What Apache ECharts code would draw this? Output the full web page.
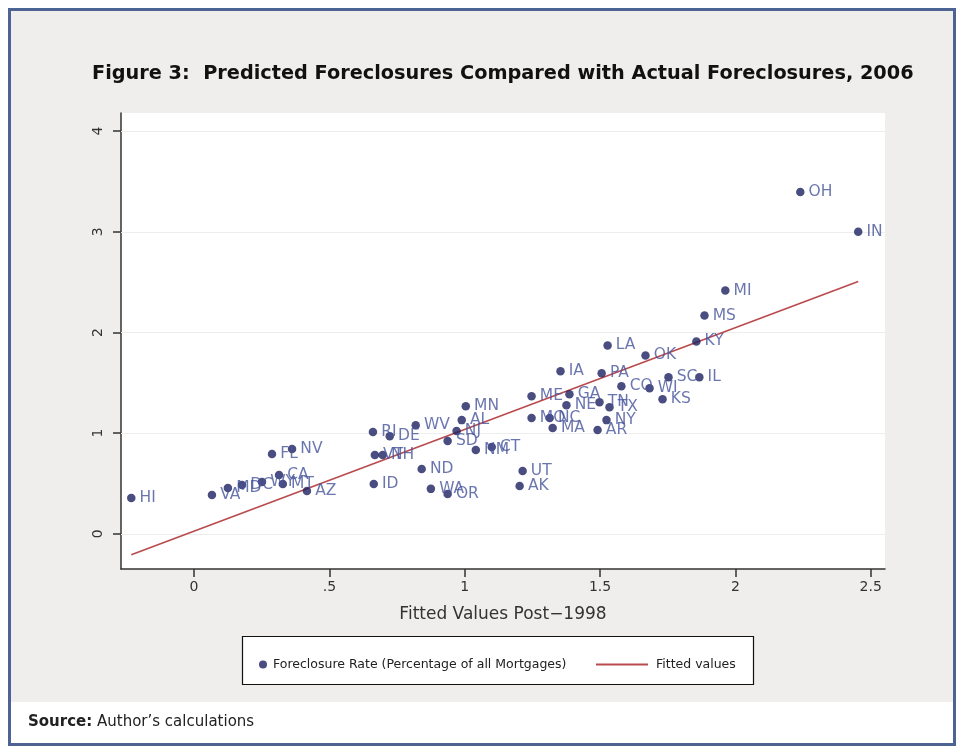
<!DOCTYPE html>
<html>
<head>
<meta charset="utf-8">
<script src="https://cdn.jsdelivr.net/npm/echarts@6/dist/echarts.min.js"></script>
<style>
  html, body { margin: 0; padding: 0; background: #fff; }
  #chart { width: 962px; height: 746px; }
</style>
</head>
<body>
<div id="chart"></div>
<script>
// states, fitted value (x) and actual foreclosure rate (y)
const states = ['HI', 'VA', 'MD', 'DC', 'WY', 'CA', 'MT', 'AZ', 'FL', 'NV',
  'RI', 'DE', 'WV', 'AL', 'MN', 'NJ', 'SD', 'NM', 'CT', 'VT',
  'NH', 'ND', 'ID', 'WA', 'OR', 'UT', 'AK', 'ME', 'MO', 'NC',
  'MA', 'IA', 'GA', 'NE', 'LA', 'PA', 'TN', 'TX', 'NY', 'AR',
  'CO', 'WI', 'OK', 'SC', 'KS', 'IL', 'KY', 'MS', 'MI', 'OH', 'IN']
const fittedX = [-0.232, 0.066, 0.125, 0.177, 0.251, 0.314, 0.328, 0.417, 0.288, 0.362,
  0.661, 0.723, 0.819, 0.989, 1.004, 0.970, 0.937, 1.041, 1.100, 0.668,
  0.697, 0.841, 0.664, 0.875, 0.937, 1.214, 1.203, 1.247, 1.247, 1.314,
  1.325, 1.354, 1.387, 1.376, 1.528, 1.506, 1.498, 1.535, 1.524, 1.491,
  1.579, 1.683, 1.668, 1.753, 1.731, 1.867, 1.856, 1.886, 1.963, 2.240, 2.454]
const actualY = [0.356, 0.386, 0.455, 0.485, 0.515, 0.584, 0.495, 0.426, 0.792, 0.842,
  1.010, 0.970, 1.079, 1.129, 1.267, 1.020, 0.921, 0.832, 0.861, 0.782,
  0.782, 0.644, 0.495, 0.446, 0.396, 0.624, 0.475, 1.366, 1.149, 1.149,
  1.050, 1.614, 1.386, 1.277, 1.871, 1.594, 1.307, 1.257, 1.129, 1.030,
  1.465, 1.446, 1.772, 1.554, 1.337, 1.554, 1.911, 2.168, 2.416, 3.396, 3.000]
// fitted line end points
const fitLine = [[-0.232, -0.208], [2.454, 2.505]]

const xTicks = [0, 0.5, 1, 1.5, 2, 2.5]
const xTickLabels = ['0', '.5', '1', '1.5', '2', '2.5']
const yTicks = [0, 1, 2, 3, 4]

const scatterName = 'Foreclosure Rate (Percentage of all Mortgages)'
const lineName = 'Fitted values'

const pts = states.map(function (s, i) {
  return { name: s, value: [fittedX[i], actualY[i]] }
})

const chart = echarts.init(document.getElementById('chart'))

const font = '"DejaVu Sans", "Liberation Sans", sans-serif'

const option = {
  animation: false,
  backgroundColor: '#fff',
  title: {
    text: 'Figure 3:  Predicted Foreclosures Compared with Actual Foreclosures, 2006',
    left: 87,
    top: 59,
    textStyle: { fontFamily: font, fontSize: 19.3, fontWeight: 'bold', color: '#111' }
  },
  graphic: [
    { type: 'rect', z: -10, shape: { x: 10, y: 10, width: 944, height: 692 }, style: { fill: '#efeeec' } },
    { type: 'rect', z: 100, shape: { x: 9.5, y: 9.5, width: 945, height: 735 }, style: { fill: 'none', stroke: '#4d6393', lineWidth: 3 } },
    { type: 'rect', z: 1, shape: { x: 242.5, y: 636.5, width: 511, height: 48 }, style: { fill: '#fff', stroke: '#111', lineWidth: 1.2 } },
    {
      type: 'text', z: 10, left: 28, top: 715,
      style: {
        text: '{b|Source:} Author\u2019s calculations',
        fontFamily: font, fontSize: 15, fill: '#222',
        rich: { b: { fontFamily: font, fontSize: 15, fontWeight: 'bold', fill: '#222' } }
      }
    }
  ],
  legend: [
    {
      data: [scatterName], left: 254, top: 653, itemWidth: 8, itemHeight: 8, itemGap: 0, z: 5,
      icon: 'circle',
      textStyle: { fontFamily: font, fontSize: 12.5, color: '#222', padding: [0, 0, 0, 1] }
    },
    {
      data: [{ name: lineName, icon: 'rect' }], left: 591, top: 653, itemWidth: 52, itemHeight: 2, z: 5,
      textStyle: { fontFamily: font, fontSize: 12.5, color: '#222', padding: [0, 0, 0, 3] }
    }
  ],
  grid: {
    left: 121, right: 77, top: 113, bottom: 177,
    show: true, backgroundColor: '#fff', borderWidth: 0
  },
  xAxis: {
    type: 'value', min: -0.27, max: 2.553,
    name: 'Fitted Values Post\u22121998', nameLocation: 'middle', nameGap: 37,
    nameTextStyle: { fontFamily: font, fontSize: 17, color: '#333' },
    axisLine: { show: true, onZero: false, lineStyle: { color: '#333', width: 1.5 } },
    axisTick: { show: true, length: 8, customValues: xTicks, lineStyle: { color: '#333', width: 1.5 } },
    axisLabel: {
      customValues: xTicks, margin: 11, fontFamily: font, fontSize: 14, color: '#333',
      formatter: function (v) { return xTickLabels[xTicks.indexOf(v)] }
    },
    splitLine: { show: false }
  },
  yAxis: {
    type: 'value', min: -0.35, max: 4.18,
    axisLine: { show: true, onZero: false, lineStyle: { color: '#333', width: 1.5 } },
    axisTick: { show: true, length: 8, customValues: yTicks, lineStyle: { color: '#333', width: 1.5 } },
    axisLabel: { customValues: yTicks, rotate: 90, margin: 16, fontFamily: font, fontSize: 14, color: '#333' },
    splitLine: { show: false }
  },
  series: [
    {
      // faint horizontal grid lines at the y ticks
      type: 'line', data: [], z: 1, silent: true,
      markLine: {
        z: 1, silent: true, symbol: 'none', label: { show: false },
        lineStyle: { color: '#ededed', width: 1.2, type: 'solid' },
        data: yTicks.map(function (v) { return { yAxis: v } })
      }
    },
    {
      name: lineName, type: 'line', data: fitLine, z: 3,
      symbol: 'none', itemStyle: { color: '#b94a4d' },
      lineStyle: { color: '#b94a4d', width: 1.6 }
    },
    {
      name: scatterName, type: 'scatter', data: pts, z: 4,
      symbol: 'circle', symbolSize: 8.5,
      itemStyle: { color: '#1d2060' },
      label: {
        show: true, position: 'right', distance: 4,
        formatter: '{b}', fontFamily: font, fontSize: 15.5, color: '#46549b'
      }
    }
  ]
}
option && chart.setOption(option)
</script>
</body>
</html>
